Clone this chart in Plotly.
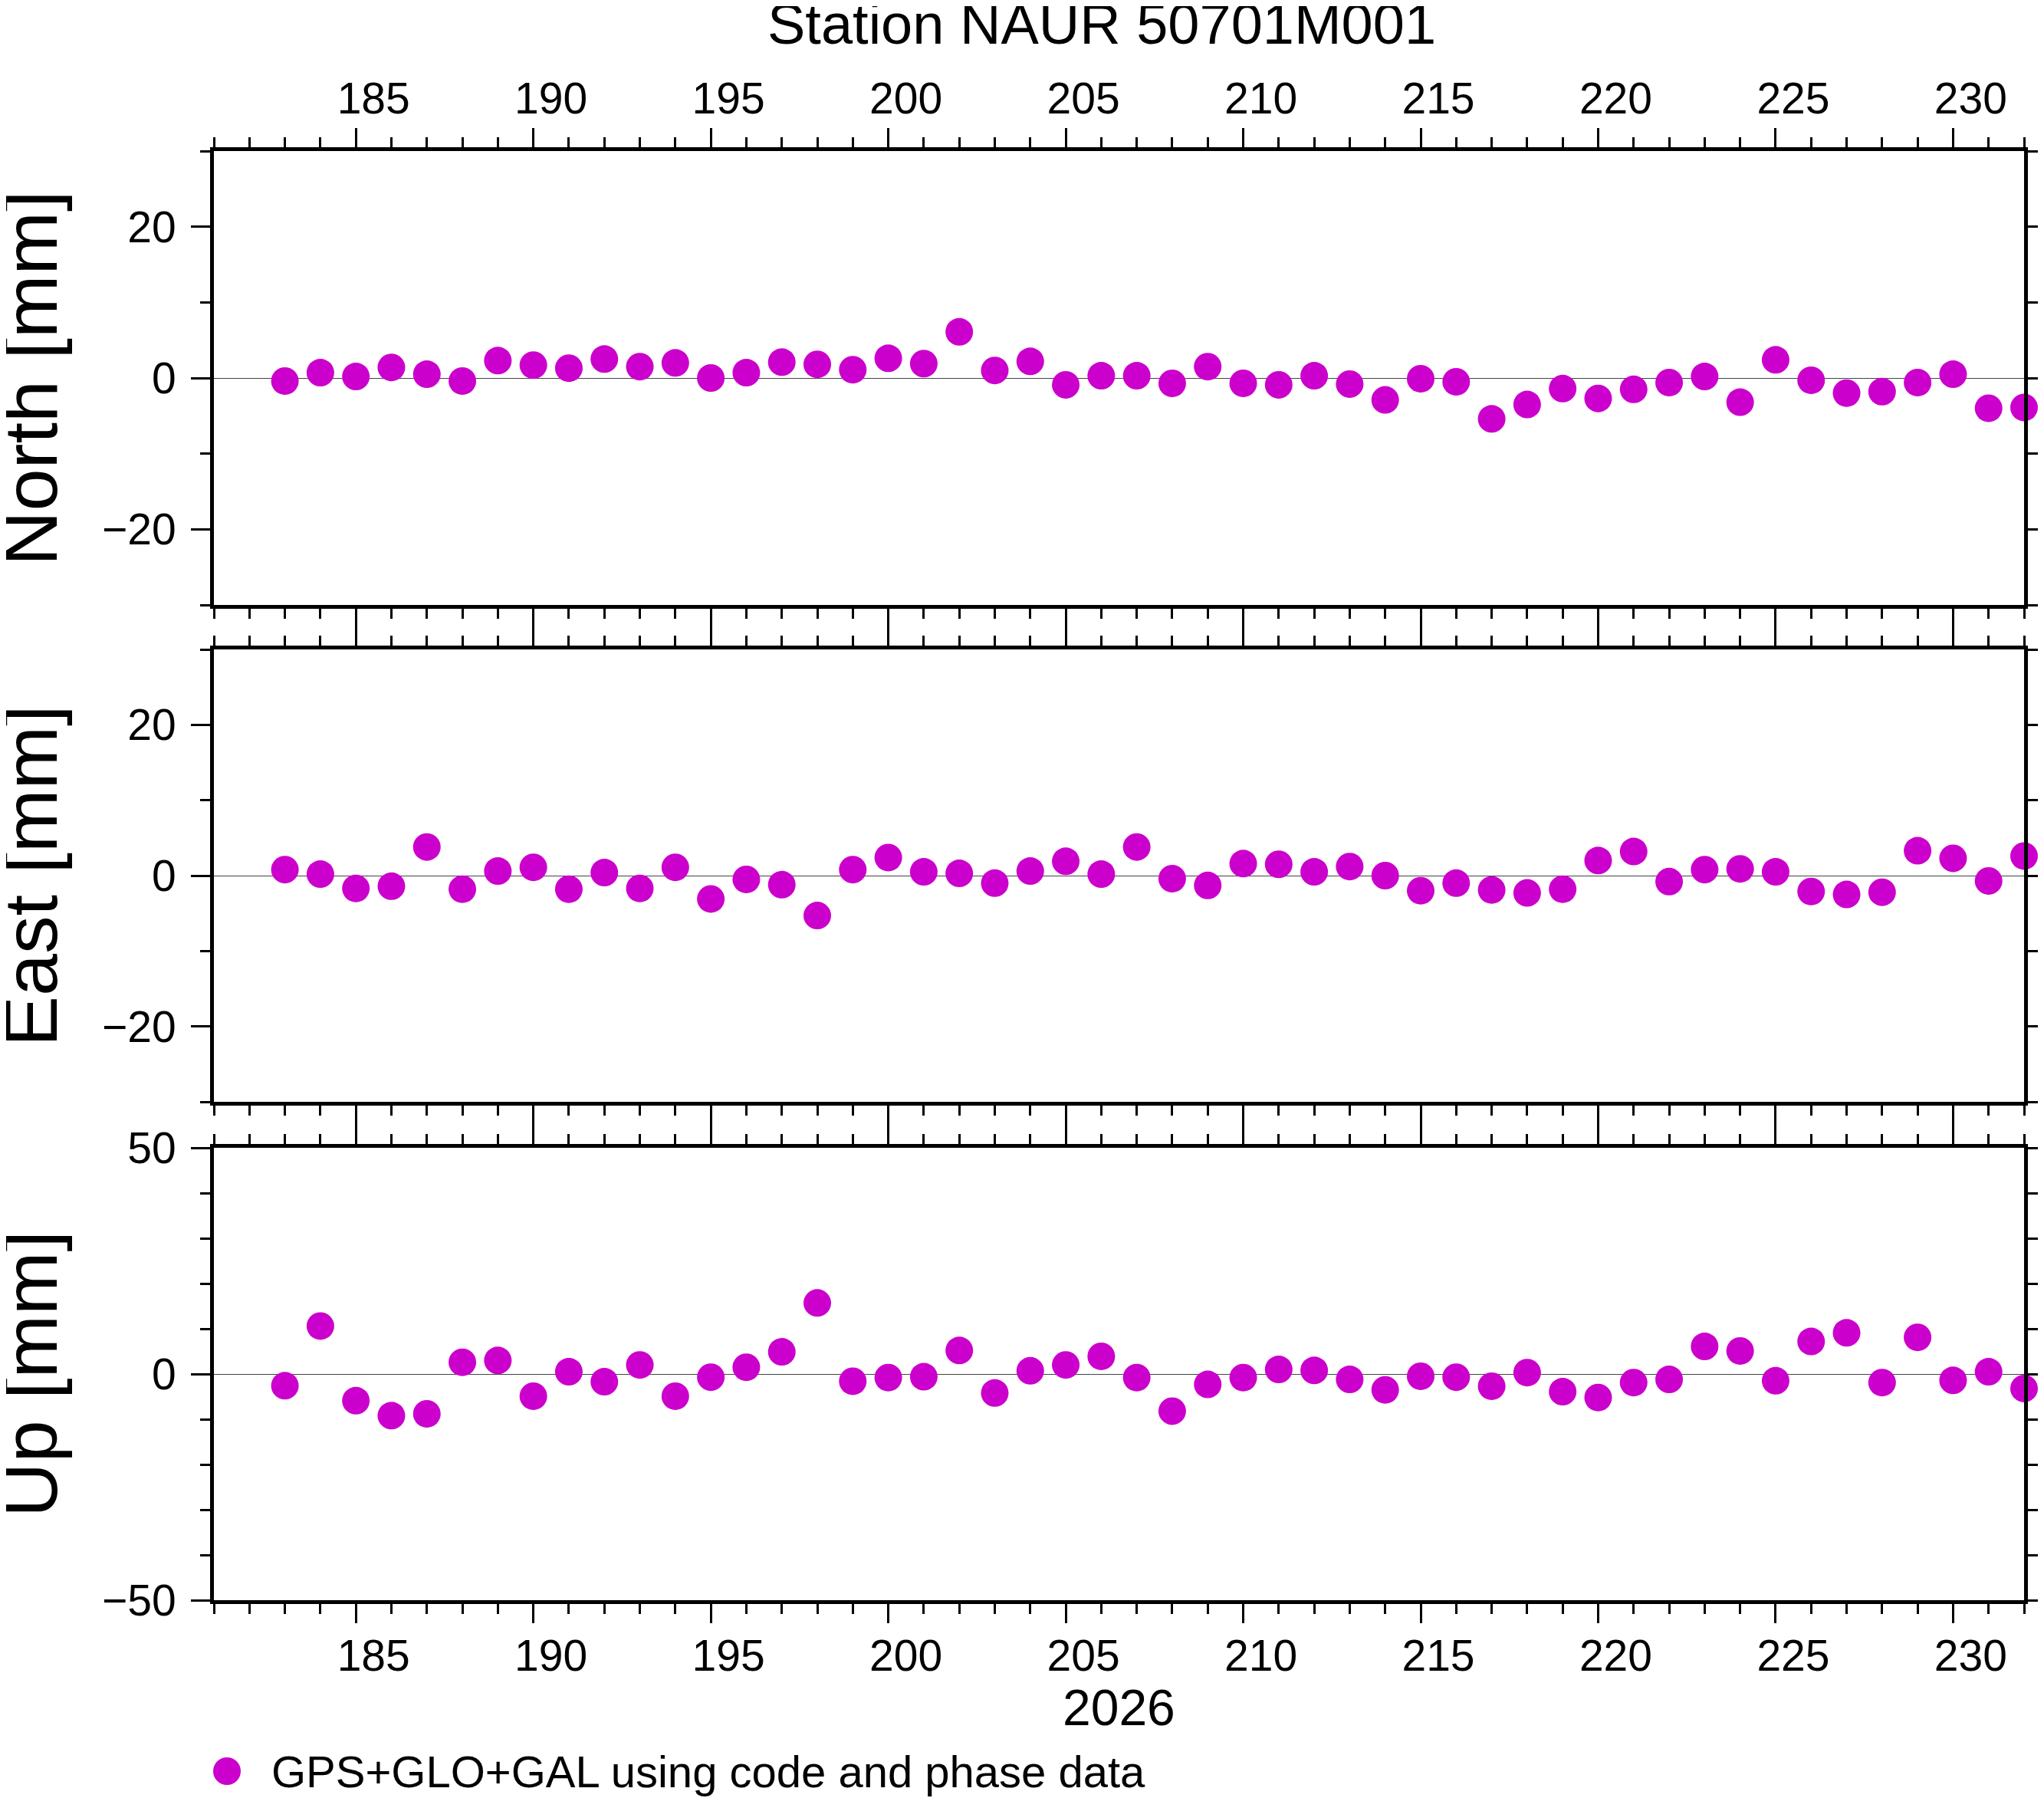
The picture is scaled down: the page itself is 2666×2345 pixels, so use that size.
import plotly.graph_objects as go

# ---- data (day of year 2026) ----
days = list(range(183, 233))
north = [-0.4, 0.7, 0.2, 1.4, 0.5, -0.4, 2.3, 1.7, 1.3, 2.5,
         1.5, 2.0, 0.0, 0.7, 2.1, 1.8, 1.1, 2.6, 1.9, 6.1,
         1.0, 2.2, -0.9, 0.3, 0.3, -0.7, 1.5, -0.7, -0.9, 0.3,
         -0.8, -2.9, -0.1, -0.5, -5.4, -3.5, -1.4, -2.7, -1.5, -0.6,
         0.2, -3.2, 2.4, -0.3, -2.0, -1.8, -0.6, 0.5, -4.0, -3.9]
east = [0.8, 0.2, -1.7, -1.4, 3.8, -1.8, 0.6, 1.1, -1.8, 0.4,
        -1.7, 1.1, -3.1, -0.5, -1.2, -5.3, 0.8, 2.4, 0.5, 0.3,
        -1.0, 0.6, 1.9, 0.2, 3.8, -0.4, -1.3, 1.6, 1.5, 0.5,
        1.2, 0.0, -2.0, -1.0, -1.9, -2.3, -1.8, 2.0, 3.2, -0.8,
        0.8, 0.9, 0.5, -2.1, -2.5, -2.2, 3.3, 2.3, -0.7, 2.6]
up = [-2.6, 10.6, -5.9, -9.2, -8.8, 2.6, 3.0, -4.9, 0.5, -1.7,
      2.0, -4.9, -0.7, 1.5, 4.9, 15.7, -1.6, -0.8, -0.6, 5.2,
      -4.2, 0.7, 2.0, 3.9, -0.8, -8.2, -2.3, -0.8, 1.0, 0.8,
      -1.2, -3.5, -0.5, -0.7, -2.7, 0.3, -3.9, -5.2, -1.9, -1.2,
      6.1, 5.1, -1.5, 7.2, 9.1, -1.9, 8.1, -1.4, 0.5, -3.2]

panel_labels = ["North [mm]", "East [mm]", "Up [mm]"]
title_text = "Station NAUR 50701M001"
year_label = "2026"
legend_text = "GPS+GLO+GAL using code and phase data"

COLOR = "rgb(204,0,204)"
FONT = "Liberation Sans, Arial, Helvetica, sans-serif"

# figure size leaves room for the page's default 8px body margin
W, H = 2650, 2337
OFF = 8  # page offset of the figure
ML, MT = 279 - OFF, 197 - OFF
PW, PH = 2361, 1890
MR = W - ML - PW
MB = H - MT - PH

def py(page_pix):
    return (MT + PH - (page_pix - OFF)) / PH

def px(page_pix):
    return ((page_pix - OFF) - ML) / PW

fig = go.Figure()
series = [north, east, up]
for i, s in enumerate(series):
    fig.add_trace(go.Scatter(
        x=days, y=s, mode="markers",
        marker=dict(size=36, color=COLOR, line=dict(width=0)),
        cliponaxis=False, showlegend=False,
        xaxis="x" if i == 0 else f"x{i+1}",
        yaxis="y" if i == 0 else f"y{i+1}",
    ))

domains = [[py(789), py(197)], [py(1437), py(847)], [py(2087), py(1497)]]
yranges = [[-30, 30], [-30, 30], [-50, 50]]
ydticks = [20, 20, 50]

axis_common = dict(
    showline=True, linecolor="black", linewidth=5, mirror="allticks",
    ticks="outside", ticklen=25, tickwidth=3, tickcolor="black",
    showgrid=False, zeroline=False, automargin=False,
    tickfont=dict(family=FONT, size=57, color="black"),
)

layout = dict(
    width=W, height=H,
    margin=dict(l=ML, r=MR, t=MT, b=MB, pad=0, autoexpand=False),
    paper_bgcolor="white", plot_bgcolor="white",
    showlegend=False,
    font=dict(family=FONT, color="black"),
)

for i in range(3):
    xname = "xaxis" if i == 0 else f"xaxis{i+1}"
    yname = "yaxis" if i == 0 else f"yaxis{i+1}"
    yid = "y" if i == 0 else f"y{i+1}"
    xid = "x" if i == 0 else f"x{i+1}"
    xa = dict(axis_common)
    xa.update(
        range=[181, 232], anchor=yid, domain=[0, 1],
        tickmode="linear", tick0=185, dtick=5,
        minor=dict(dtick=1, tick0=181, ticklen=13, tickwidth=3,
                   tickcolor="black", ticks="outside", showgrid=False),
        ticklabelshift=23,
    )
    if i == 0:
        xa.update(side="top", showticklabels=True, ticklabelstandoff=-4)
    elif i == 1:
        xa.update(showticklabels=False, matches="x")
    else:
        xa.update(side="bottom", showticklabels=True, matches="x",
                  ticklabelstandoff=-6)
    layout[xname] = xa

    ya = dict(axis_common)
    ya.update(
        range=yranges[i], anchor=xid, domain=domains[i],
        tickmode="linear", tick0=0, dtick=ydticks[i],
        minor=dict(dtick=10, tick0=0, ticklen=13, tickwidth=3,
                   tickcolor="black", ticks="outside", showgrid=False),
        zeroline=True, zerolinecolor="#444444", zerolinewidth=1.2,
        ticklabelstandoff=8,
    )
    layout[yname] = ya

fig.update_layout(**layout)

annotations = []
# y-axis labels
for i, lab in enumerate(panel_labels):
    yc = (domains[i][0] + domains[i][1]) / 2
    annotations.append(dict(
        text=lab, xref="paper", yref="paper", x=(31 - ML) / PW, y=yc,
        xanchor="center", yanchor="middle", textangle=-90, showarrow=False,
        font=dict(family=FONT, size=99, color="black"),
    ))
# title
annotations.append(dict(
    text=title_text, xref="paper", yref="paper", x=px(1437), y=py(31),
    xanchor="center", yanchor="middle", showarrow=False,
    font=dict(family=FONT, size=74, color="black"),
))
# year label
annotations.append(dict(
    text=year_label, xref="paper", yref="paper", x=0.5, y=py(2227),
    xanchor="center", yanchor="middle", showarrow=False,
    font=dict(family=FONT, size=66, color="black"),
))
# legend text
annotations.append(dict(
    text=legend_text, xref="paper", yref="paper", x=px(352), y=py(2310),
    xanchor="left", yanchor="middle", showarrow=False,
    font=dict(family=FONT, size=58, color="black"),
))
fig.update_layout(annotations=annotations)

# legend symbol
fig.add_shape(type="circle", xref="paper", yref="paper",
              xsizemode="pixel", ysizemode="pixel",
              xanchor=px(296), yanchor=py(2310),
              x0=-18, x1=18, y0=-18, y1=18,
              fillcolor=COLOR, line=dict(width=0))

fig.write_html("out.html")
